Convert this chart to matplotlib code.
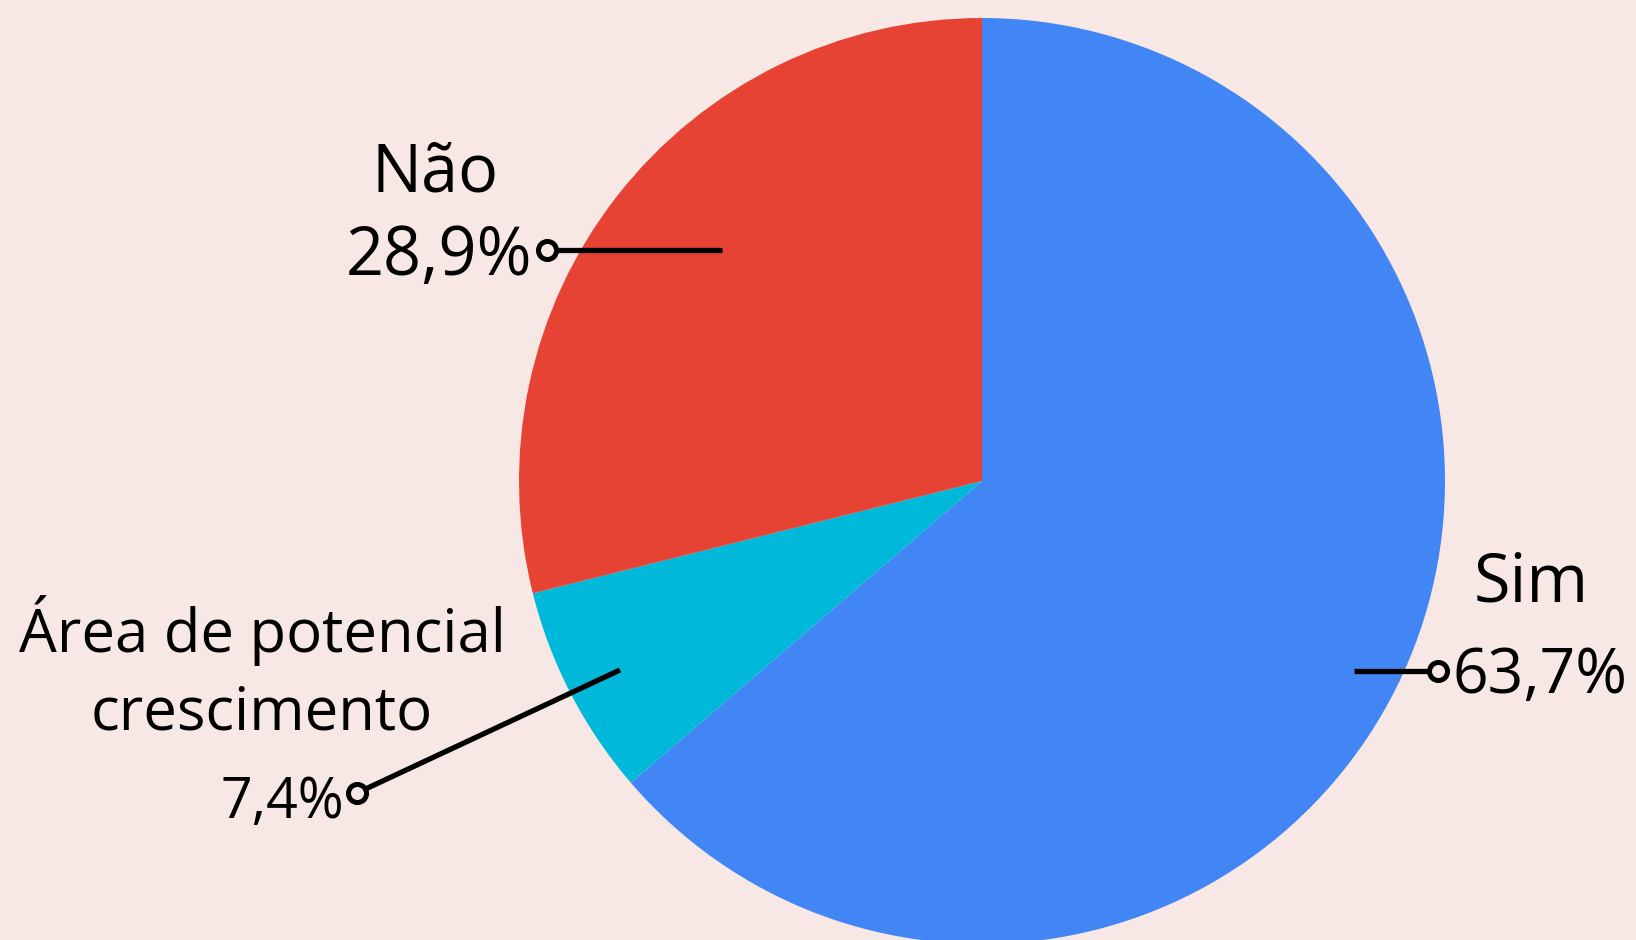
import matplotlib.pyplot as plt

# Data
labels = ['Sim', 'Área de potencial\ncrescimento', 'Não']
values = [63.7, 7.4, 28.9]
pct_text = ['63,7%', '7,4%', '28,9%']
colors = ['#4285F4', '#00B8D9', '#E64334']
bg = '#F7E8E5'

W, H = 1636, 940
fig = plt.figure(figsize=(W / 100, H / 100), dpi=100, facecolor=bg)
ax = fig.add_axes([0, 0, 1, 1])

plt.rcParams['font.family'] = ['Open Sans', 'DejaVu Sans']

# pie in pixel coordinates (y measured from top, converted)
ax.pie(values, colors=colors, startangle=90, counterclock=False,
       center=(982, H - 481), radius=463, frame=True,
       wedgeprops=dict(linewidth=0))
ax.set_xlim(0, W)
ax.set_ylim(0, H)
ax.set_aspect('auto')
ax.axis('off')


def py(y):
    return H - y


# leader lines: (inner point, marker point)
leaders = [((1354, 671), (1438, 671)),
           ((620, 670), (357, 793)),
           ((722, 250), (547, 250))]
for (x0, y0), (x1, y1) in leaders:
    ax.plot([x0, x1], [py(y0), py(y1)], color='black', lw=3.8, solid_capstyle='butt', zorder=3)
    ax.plot([x1], [py(y1)], marker='o', ms=13, mfc=bg, mec='black', mew=3.6, zorder=4)

big = 48
small = 43
txt = dict(color='black', fontweight='normal')

# Sim
ax.text(1531, py(602), labels[0], ha='center', va='baseline', fontsize=big, **txt)
ax.text(1452, py(693), pct_text[0], ha='left', va='baseline', fontsize=45, **txt)
# Área de potencial crescimento
name1, name2 = labels[1].split('\n')
ax.text(262, py(652), name1, ha='center', va='baseline', fontsize=small, **txt)
ax.text(262, py(730), name2, ha='center', va='baseline', fontsize=small, **txt)
ax.text(344, py(818), pct_text[1], ha='right', va='baseline', fontsize=40, **txt)
# Não
ax.text(435, py(192), labels[2], ha='center', va='baseline', fontsize=big, **txt)
ax.text(532, py(275), pct_text[2], ha='right', va='baseline', fontsize=big, **txt)

fig.savefig('out.png', dpi=100, facecolor=bg)
